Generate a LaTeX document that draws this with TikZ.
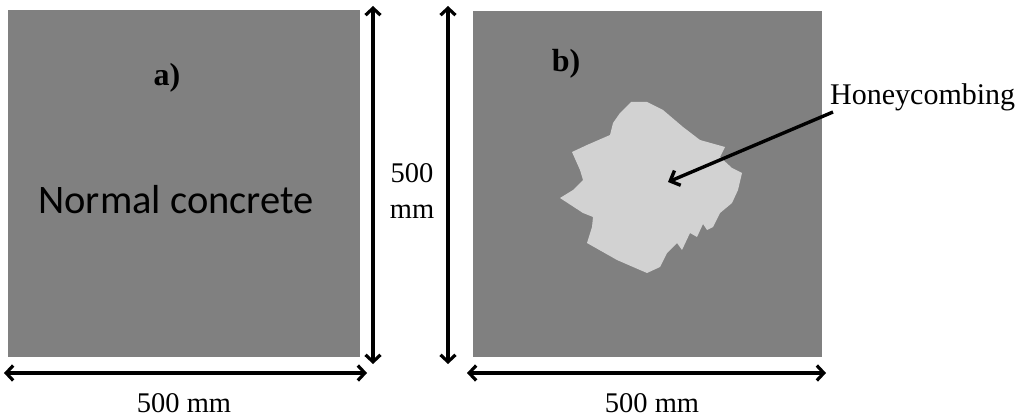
\documentclass[tikz,border=0pt]{standalone}
\usepackage{fontspec}
\setmainfont{Liberation Serif}
\newfontfamily\calib{Carlito}
\usetikzlibrary{arrows.meta}
\definecolor{concrete}{RGB}{128,128,128}
\definecolor{honey}{RGB}{210,210,210}
\tikzset{
  dimarrow/.style={line width=3.2pt,{Straight Barb[length=7pt,width=15pt]}-{Straight Barb[length=7pt,width=15pt]}},
  ptrarrow/.style={line width=3.4pt,-{Straight Barb[length=8pt,width=16pt]}},
  dimlabel/.style={font=\fontsize{28.5}{36}\selectfont, inner sep=0pt},
  panel/.style={fill=concrete, draw=none},
}
\begin{document}
\begin{tikzpicture}[x=1pt,y=-1pt]
\useasboundingbox[fill=white] (0,0) rectangle (1024,419);
% panels
\fill[panel] (8,10) rectangle (360,357);
\fill[panel] (473,11) rectangle (822,357);
% honeycomb region
\fill[honey] (631,102) -- (647,102) -- (663,110) -- (683,127) -- (700,140) -- (725,147)
 -- (720,157) -- (732,168) -- (742,173) -- (738,190) -- (732,203) -- (720,213)
 -- (713,227) -- (707,230) -- (703,224) -- (697,237) -- (690,233) -- (682,250)
 -- (677,243) -- (667,253) -- (660,267) -- (647,273) -- (640,270) -- (617,260)
 -- (587,243) -- (592,227) -- (593,217) -- (583,213) -- (560,198) -- (573,190)
 -- (583,180) -- (580,170) -- (572,152) -- (587,145) -- (610,135) -- (613,123)
 -- (620,113) -- cycle;
% texts
\node[inner sep=0pt, font=\bfseries\fontsize{32}{34}\selectfont] (la) at (167,78) {a)};
\node[inner sep=0pt, font=\bfseries\fontsize{32}{34}\selectfont] (lb) at (566,64) {b)};
\node[inner sep=0pt, font=\calib\fontsize{40.5}{44}\selectfont] (nc) at (176,200) {Normal concrete};
\node[inner sep=0pt, anchor=west, font=\fontsize{30}{32}\selectfont] (hc) at (830,97) {Honeycombing};
\node[dimlabel, align=center] (vl) at (412,191) {500\\mm};
\node[dimlabel] (hl1) at (184,403) {500 mm};
\node[dimlabel] (hl2) at (652,403) {500 mm};
% dimension arrows
\coordinate (v1t) at (373,6); \coordinate (v1b) at (373,364);
\coordinate (v2t) at (448,6); \coordinate (v2b) at (448,364);
\coordinate (h1l) at (4,373); \coordinate (h1r) at (367,373);
\coordinate (h2l) at (467,373); \coordinate (h2r) at (826,373);
\draw[dimarrow] (v1t) -- (v1b);
\draw[dimarrow] (v2t) -- (v2b);
\draw[dimarrow] (h1l) -- (h1r);
\draw[dimarrow] (h2l) -- (h2r);
% pointer
\coordinate (tip) at (668,182);
\draw[ptrarrow] (833,112) -- (tip);
\end{tikzpicture}
\end{document}
